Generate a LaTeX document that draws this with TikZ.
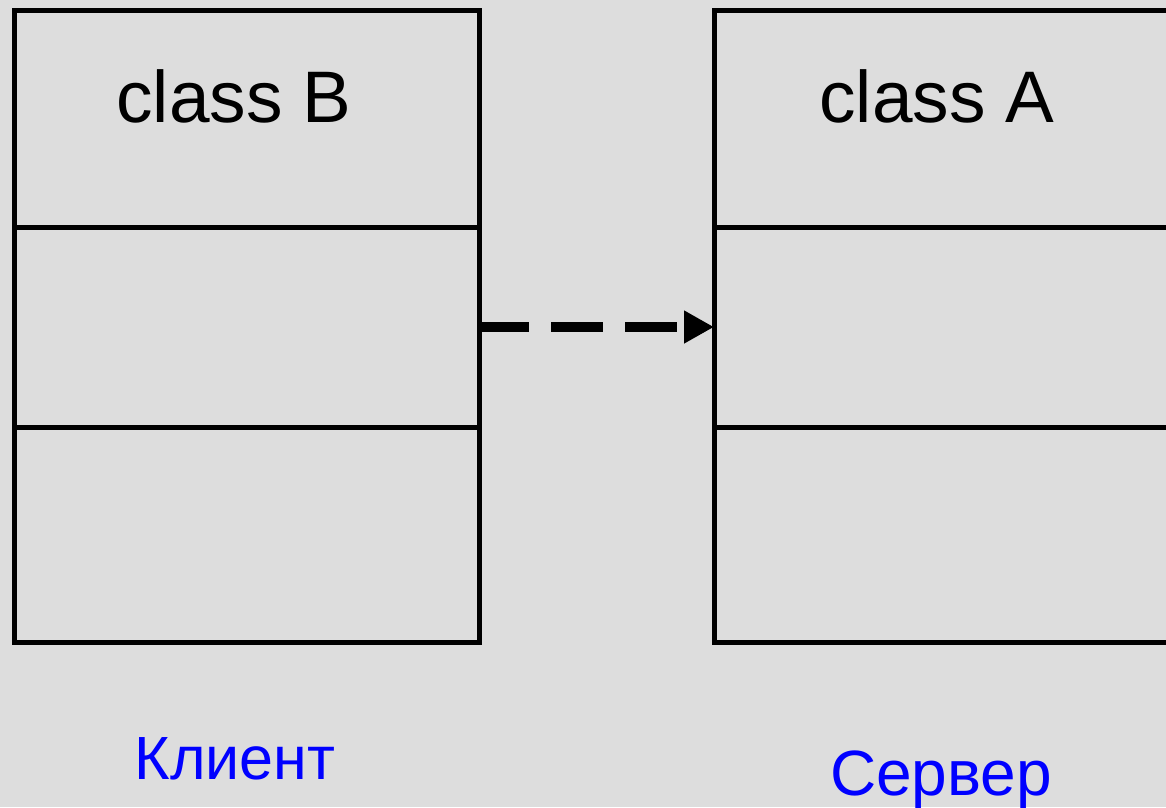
\documentclass[tikz,border=0pt]{standalone}
\usepackage{fontspec}
\setmainfont{Liberation Sans}
\usetikzlibrary{arrows.meta}
\definecolor{bg}{HTML}{DDDDDD}
\definecolor{lbl}{HTML}{0000FF}
\begin{document}
\begin{tikzpicture}[x=1pt,y=-1pt,
  classbox/.style={draw=black, line width=5pt, minimum width=465pt, minimum height=632pt, outer sep=0pt, inner sep=0pt},
  divider/.style={draw=black, line width=5pt},
  titletext/.style={font=\fontsize{73}{86}\selectfont, anchor=base, inner sep=0pt},
  roletext/.style={font=\fontsize{64}{76}\selectfont, text=lbl, anchor=base, inner sep=0pt},
  dep/.style={line width=10pt, dash pattern=on 52pt off 22pt, -{Triangle[length=30pt,width=31pt]}}]
\fill[bg] (0,0) rectangle (1166,807);
\useasboundingbox (0,0) rectangle (1166,807);
\clip (0,0) rectangle (1166,807);
\node[classbox] (B) at (246.5,326) {};
\node[classbox] (A) at (946.5,326) {};
\draw[divider] (B.west |- 0,227) coordinate (b1l) -- (B.east |- 0,227) coordinate (b1r);
\draw[divider] (B.west |- 0,427) coordinate (b2l) -- (B.east |- 0,427) coordinate (b2r);
\draw[divider] (A.west |- 0,227) coordinate (a1l) -- (A.east |- 0,227) coordinate (a1r);
\draw[divider] (A.west |- 0,427) coordinate (a2l) -- (A.east |- 0,427) coordinate (a2r);
\node[titletext] (tB) at (234,122) {class B};
\node[titletext] (tA) at (937,122) {class A};
\node[roletext, font=\fontsize{61}{72}\selectfont] (rB) at (235,779) {Клиент};
\node[roletext] (rA) at (941,795) {Сервер};
\coordinate (s) at ([xshift=-2pt,yshift=-1pt]B.east);
\coordinate (e) at ([yshift=-1pt]A.west);
\draw[dep] (s) -- (e);
\end{tikzpicture}
\end{document}
